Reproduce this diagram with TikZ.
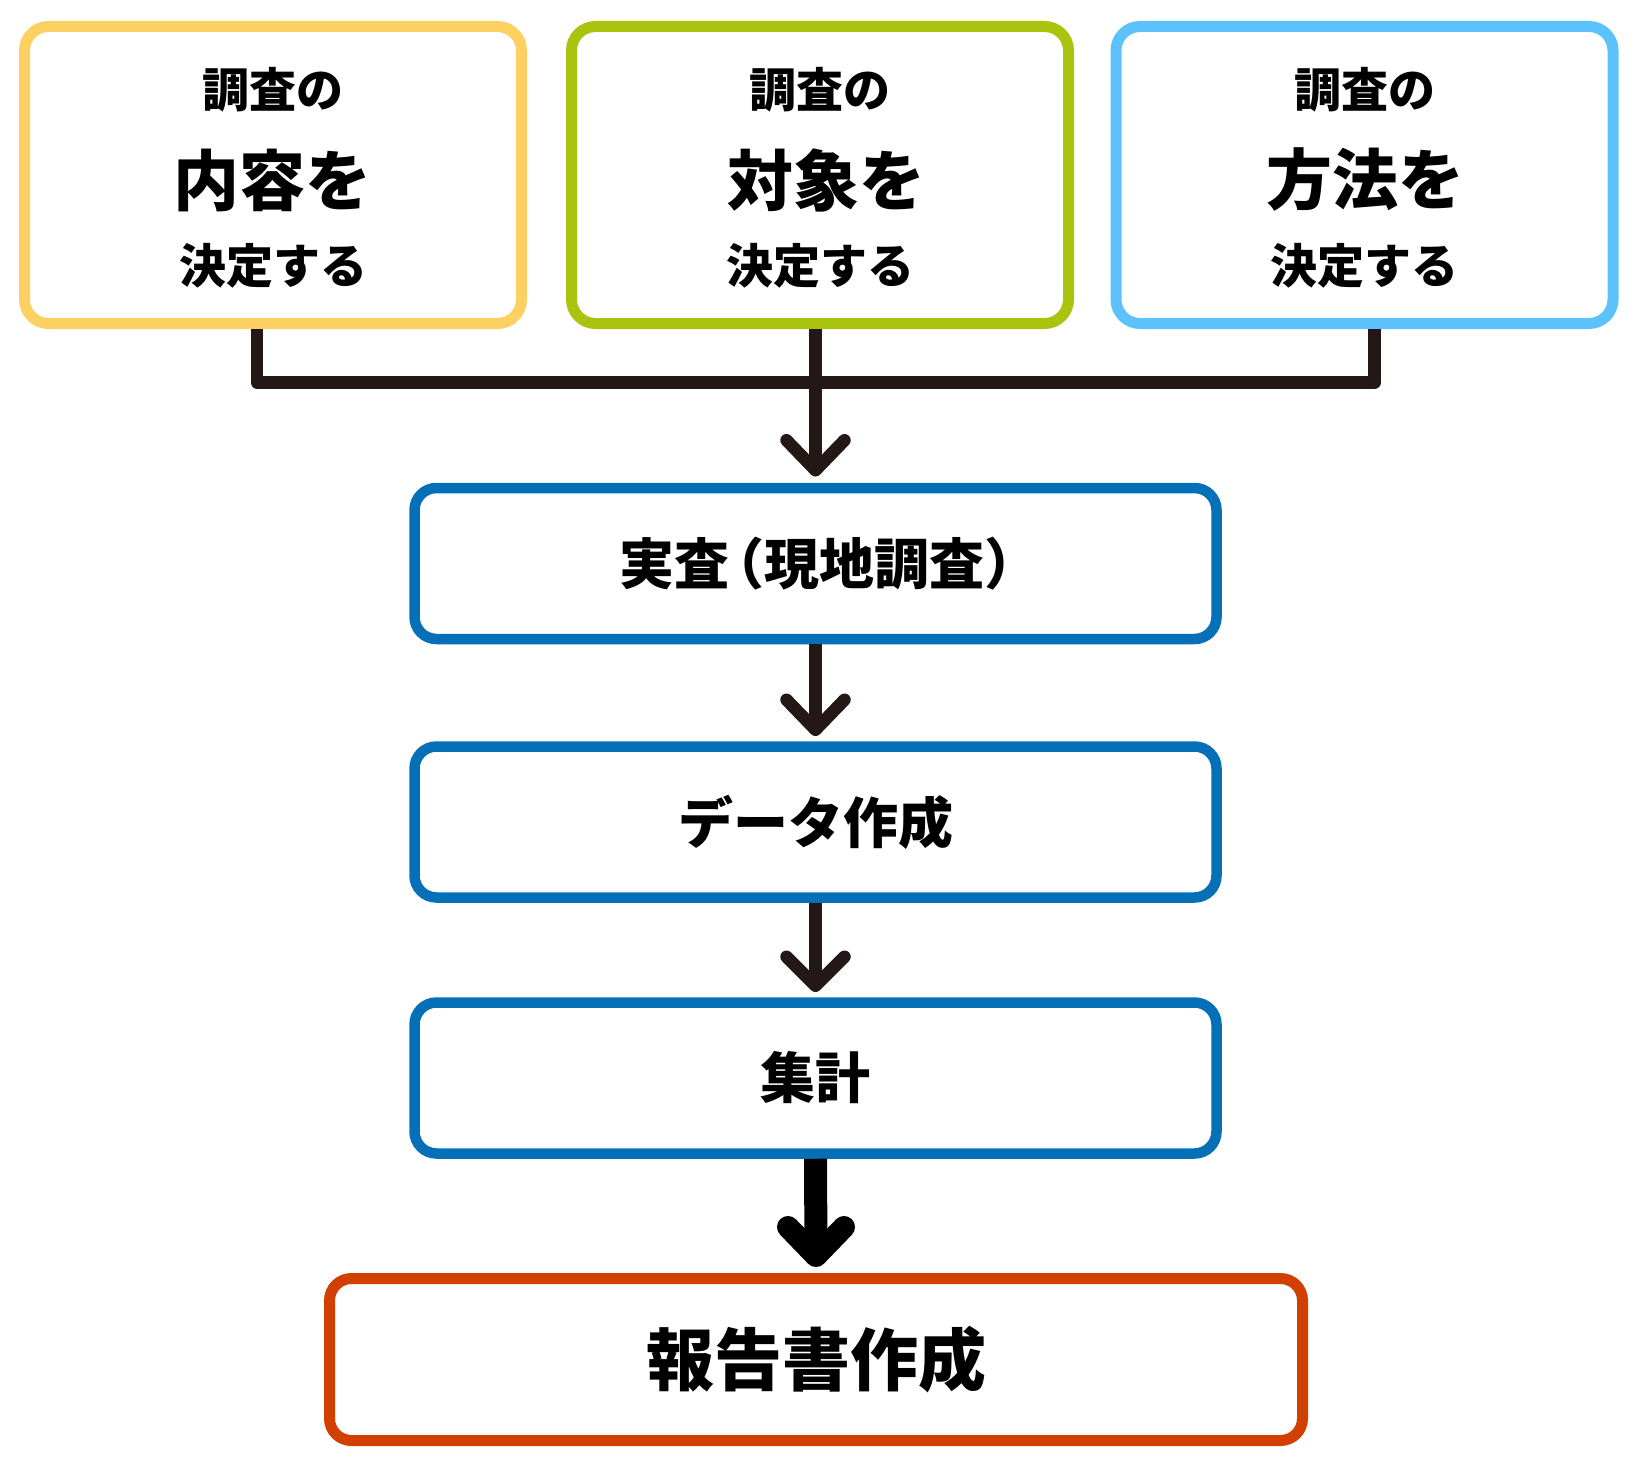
\documentclass[tikz,border=0pt]{standalone}
\usepackage{fontspec}
\newfontfamily\cjk{Noto Sans CJK JP}
\usetikzlibrary{calc}
\definecolor{cyellow}{HTML}{FDD062}
\definecolor{cgreen}{HTML}{AAC30E}
\definecolor{clblue}{HTML}{5DC2FB}
\definecolor{cblue}{HTML}{0570B7}
\definecolor{corange}{HTML}{D14000}
\definecolor{cdark}{HTML}{231815}
\begin{document}
\begin{tikzpicture}[x=1pt,y=-1pt,
  topbox/.style={draw, line width=11pt, rounded corners=24pt, minimum width=497pt, minimum height=297pt, inner sep=0pt},
  flowbox/.style={draw=cblue, line width=10.5pt, rounded corners=22pt, minimum width=802pt, minimum height=151pt, inner sep=0pt, font=\cjk\bfseries\fontsize{55}{60}\selectfont},
  smalltxt/.style={inner sep=0pt, font=\cjk\bfseries\fontsize{47}{50}\selectfont},
  bigtxt/.style={inner sep=0pt, font=\cjk\bfseries\fontsize{66}{70}\selectfont},
  conn/.style={draw=cdark, line width=12.5pt, line join=round},
  chev/.style={draw=cdark, line width=12.5pt, line cap=round, line join=round},
  bigconn/.style={draw=black, line width=23pt},
  bigchev/.style={draw=black, line width=22pt, line cap=round, line join=round}
]
\fill[white] (0,0) rectangle (1640,1480);
\useasboundingbox (0,0) rectangle (1640,1480);

% top boxes
\node[topbox, draw=cyellow] (b1) at (273,175) {};
\node[topbox, draw=cgreen] (b2) at (820,175) {};
\node[topbox, draw=clblue] (b3) at (1364.5,175) {};

\node[smalltxt] (t1a) at ($(b1)+(0,-85)$) {調査の};
\node[bigtxt]   (t1b) at ($(b1)+(-1,5)$) {内容を};
\node[smalltxt] (t1c) at ($(b1)+(0,91)$) {決定する};

\node[smalltxt] (t2a) at ($(b2)+(0,-85)$) {調査の};
\node[bigtxt]   (t2b) at ($(b2)+(6,5)$) {対象を};
\node[smalltxt] (t2c) at ($(b2)+(0,91)$) {決定する};

\node[smalltxt] (t3a) at ($(b3)+(0,-85)$) {調査の};
\node[bigtxt]   (t3b) at ($(b3)+(1,5)$) {方法を};
\node[smalltxt] (t3c) at ($(b3)+(0,91)$) {決定する};

% flow boxes
\node[flowbox] (b4) at (815.5,563.5) {実査\kern-20pt（現地調査）\kern-27pt};
\node[flowbox] (b5) at (815.5,822) {データ作成};
\node[flowbox] (b6) at (815.5,1078) {集計};
\node[flowbox, draw=corange, line width=11pt, minimum width=973pt, minimum height=162pt,
      font=\cjk\bfseries\fontsize{68}{72}\selectfont] (b7) at (816,1359.5) {報告書作成};

% joining connector
\coordinate (jl) at (257,382.5);
\coordinate (jm) at (815.5,382.5);
\coordinate (jr) at (1374.5,382.5);
\draw[conn] (b1.south -| jl) -- (jl) -- (jr) -- (b3.south -| jr);

% arrow 1
\coordinate (a1) at ($(b4.north)+(0,-12.5)$);
\draw[conn] (b2.south -| jm) -- (jm) -- (a1);
\draw[chev] ($(a1)+(-29,-30)$) -- (a1) -- ($(a1)+(29,-30)$);

% arrow 2
\coordinate (a2) at ($(b5.north)+(0,-11.5)$);
\draw[conn] (b4.south) -- (a2);
\draw[chev] ($(a2)+(-29,-30)$) -- (a2) -- ($(a2)+(29,-30)$);

% arrow 3
\coordinate (a3) at ($(b6.north)+(0,-11.5)$);
\draw[conn] (b5.south) -- (a3);
\draw[chev] ($(a3)+(-29,-29)$) -- (a3) -- ($(a3)+(29,-29)$);

% arrow 4
\coordinate (a4) at ($(b7.north)+(0,-17)$);
\draw[bigconn] (b6.south) -- (a4);
\draw[bigchev] ($(a4)+(-28,-29)$) -- (a4) -- ($(a4)+(28,-29)$);
\end{tikzpicture}
\end{document}
